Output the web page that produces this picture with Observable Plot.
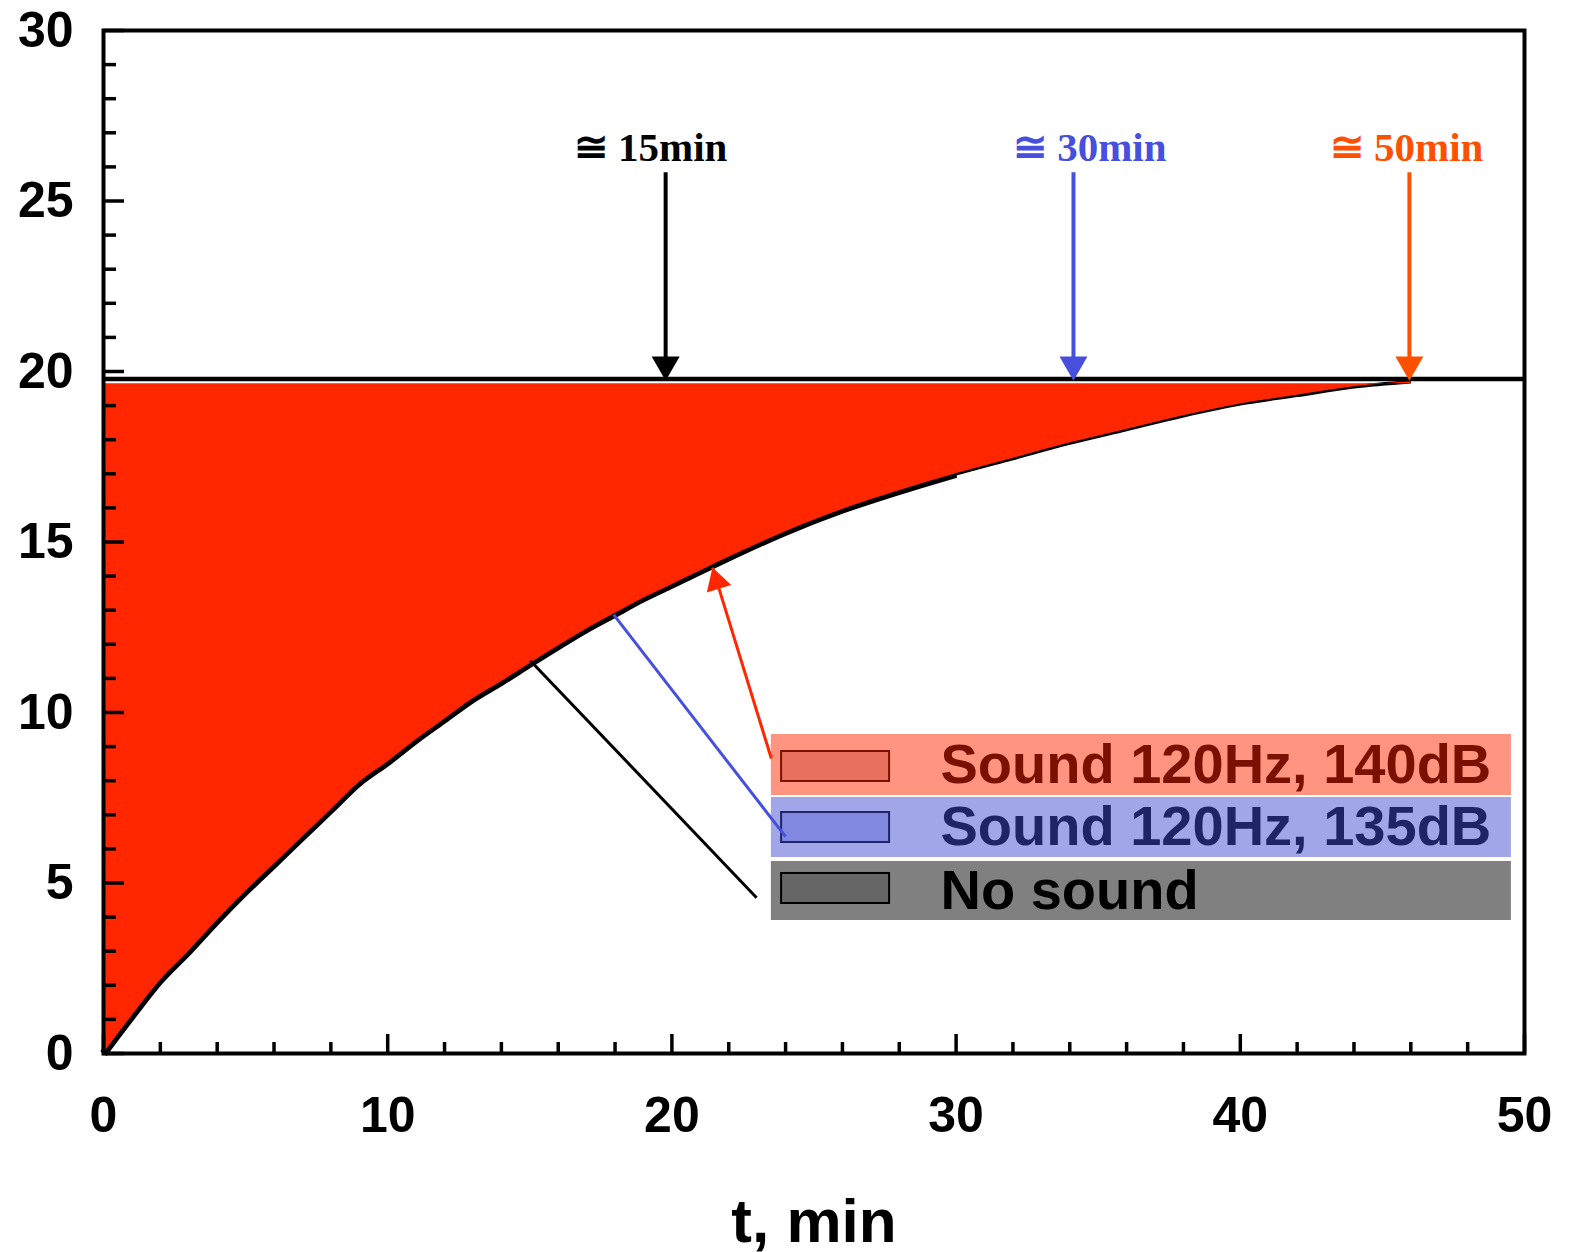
<!DOCTYPE html>
<html><head><meta charset="utf-8">
<script src="https://cdn.jsdelivr.net/npm/d3@7"></script>
<script src="https://cdn.jsdelivr.net/npm/@observablehq/plot@0.6"></script>
<style>html,body{margin:0;padding:0;background:#fff} svg{display:block}</style>
</head><body><div id="chart"></div>
<script>
// ---- data ----
const curveT = [0, 1, 2, 3, 4, 5, 6, 7, 8, 9, 10, 11, 12, 13, 14, 15, 16, 17, 18, 19, 20, 21, 22, 24, 26, 28, 30, 32, 34, 36, 38, 40, 42, 44, 46];
const curveY = [0, 1.1, 2.15, 3.0, 3.9, 4.75, 5.55, 6.35, 7.15, 7.95, 8.55, 9.2, 9.8, 10.4, 10.9, 11.43, 11.95, 12.45, 12.9, 13.35, 13.75, 14.15, 14.55, 15.3, 15.95, 16.5, 17.0, 17.45, 17.9, 18.3, 18.7, 19.05, 19.3, 19.55, 19.7];
const plateau = 19.78;
const fillTop = 19.64;

const xMajorTicks = [0, 10, 20, 30, 40, 50];
const xMinorTicks = [2, 4, 6, 8, 12, 14, 16, 18, 22, 24, 26, 28, 32, 34, 36, 38, 42, 44, 46, 48];
const yMajorTicks = [0, 5, 10, 15, 20, 25, 30];
const yMinorTicks = [1, 2, 3, 4, 6, 7, 8, 9, 11, 12, 13, 14, 16, 17, 18, 19, 21, 22, 23, 24, 26, 27, 28, 29];

const arrowTimes = [19.78, 34.13, 45.95];
const arrowLabels = ["\u2245 15min", "\u2245 30min", "\u2245 50min"];
const arrowLabelTimes = [19.25, 34.7, 45.85];
const arrowColors = ["#000000", "#4650dc", "#ff5000"];

const legendLabels = ["Sound 120Hz, 140dB", "Sound 120Hz, 135dB", "No sound"];
const legendBandColors = ["#ff9480", "#a0a6e8", "#808080"];
const legendTextColors = ["#7a1000", "#1e2466", "#000000"];
const legendSwatchFill = ["#e8705e", "#8088e0", "#666666"];
const legendSwatchStroke = ["#7a1000", "#1e2466", "#000000"];

// leader lines (from curve point to legend)
const leaderFromT = [15.02, 17.95];
const leaderFromY = [11.52, 12.87];
const leaderToT = [22.98, 24.0];
const leaderToY = [4.57, 6.36];
const leaderColors = ["#000000", "#4650dc"];
const redLeader = {t1: 23.5, y1: 8.65, t2: 21.43, y2: 14.25};

// ---- layout (not data) ----
const W = 1569, H = 1252;
const mL = 103, mR = 45, mT = 30, mB = 199;
const innerW = W - mL - mR, innerH = H - mT - mB;
const legendX1 = 23.5, legendX2 = 49.54, swatchX1 = 23.86, swatchX2 = 27.66, legendTextT = 29.45;
const bandTop = [9.355, 7.507, 5.630], bandBottom = [7.566, 5.748, 3.900];
const swTop = [8.856, 7.067, 5.279], swBottom = [7.977, 6.188, 4.399];
const legendTextY = [8.46, 6.63, 4.77];
const shaftTop = 25.83, shaftBottom = 20.4, labelY = 26.57, arrowTipY = 19.73;

const curve = curveT.map((t, i) => ({t, y: curveY[i], top: fillTop}));
const arrows = arrowTimes.map((t, i) => ({t, lt: arrowLabelTimes[i], label: arrowLabels[i], color: arrowColors[i]}));
const legend = legendLabels.map((label, i) => ({
  label, band: legendBandColors[i], text: legendTextColors[i], sf: legendSwatchFill[i], ss: legendSwatchStroke[i],
  bt: bandTop[i], bb: bandBottom[i], st: swTop[i], sb: swBottom[i], ty: legendTextY[i]
}));
const leaders = leaderFromT.map((t, i) => ({x1: t, y1: leaderFromY[i], x2: leaderToT[i], y2: leaderToY[i], c: leaderColors[i]}));

const sans = "'Liberation Sans', Arial, Helvetica, sans-serif";
const serif = "'Liberation Serif', 'Times New Roman', serif";
const lineOpts = {x: "t", y: "y", stroke: "#000", curve: "monotone-x", strokeLinecap: "butt"};

const chart = Plot.plot({
  width: W, height: H,
  marginLeft: mL, marginRight: mR, marginTop: mT, marginBottom: mB,
  x: {domain: [0, 50]},
  y: {domain: [0, 30]},
  style: {fontFamily: sans, background: "#fff", overflow: "visible"},
  marks: [
    Plot.line(curve.filter(d => d.t <= 30), {...lineOpts, strokeWidth: 8}),
    Plot.line(curve.filter(d => d.t >= 28), {...lineOpts, strokeWidth: 3.5}),
    Plot.areaY(curve, {x: "t", y1: "y", y2: "top", fill: "#ff2600", curve: "monotone-x"}),
    Plot.ruleY([plateau], {stroke: "#000", strokeWidth: 4.5}),
    // arrows + labels
    Plot.ruleX(arrows, {x: "t", y1: shaftTop, y2: shaftBottom, stroke: "color", strokeWidth: 4}),
    Plot.dot(arrows, {x: "t", y: arrowTipY, symbol: "triangle", r: 10.4, rotate: 180, dy: -16.2, fill: "color", stroke: null}),
    Plot.text(arrows, {x: "lt", y: labelY, text: "label", fill: "color", fontFamily: serif, fontWeight: "bold", fontSize: 41}),
    // legend
    Plot.rect(legend, {x1: legendX1, x2: legendX2, y1: "bb", y2: "bt", fill: "band"}),
    Plot.rect(legend, {x1: swatchX1, x2: swatchX2, y1: "sb", y2: "st", fill: "sf", stroke: "ss", strokeWidth: 2}),
    Plot.text(legend, {x: legendTextT, y: "ty", text: "label", fill: "text", textAnchor: "start", fontSize: 56, fontWeight: "bold", fontFamily: sans}),
    // leader lines
    Plot.link(leaders, {x1: "x1", y1: "y1", x2: "x2", y2: "y2", stroke: "c", strokeWidth: 3}),
    Plot.link([redLeader], {x1: "t1", y1: "y1", x2: "t2", y2: "y2", stroke: "#ff2600", strokeWidth: 3}),
    Plot.dot([redLeader], {x: "t2", y: "y2", symbol: "triangle", r: 9.5, rotate: -17.1, dx: 4.3, dy: 14.1, fill: "#ff2600", stroke: null}),
    // ticks (inward)
    Plot.tickY(yMinorTicks, {y: d => d, stroke: "#000", strokeWidth: 3.5, insetRight: innerW - 13}),
    Plot.tickY(yMajorTicks, {y: d => d, stroke: "#000", strokeWidth: 3.5, insetRight: innerW - 21}),
    Plot.tickX(xMinorTicks, {x: d => d, stroke: "#000", strokeWidth: 3.5, insetTop: innerH - 11}),
    Plot.tickX(xMajorTicks, {x: d => d, stroke: "#000", strokeWidth: 3.5, insetTop: innerH - 19}),
    Plot.frame({stroke: "#000", strokeWidth: 4}),
    Plot.axisY(yMajorTicks, {tickSize: 0, tickPadding: 30, fontSize: 50, fontWeight: "bold", fill: "#000", label: null}),
    Plot.axisX(xMajorTicks, {tickSize: 0, tickPadding: 43, fontSize: 50, fontWeight: "bold", fill: "#000", label: null}),
    Plot.text(["t, min"], {frameAnchor: "bottom", dy: 188, text: d => d, fontSize: 62, fontWeight: "bold", fill: "#000"})
  ]
});
document.getElementById("chart").appendChild(chart);
</script>
</body></html>
